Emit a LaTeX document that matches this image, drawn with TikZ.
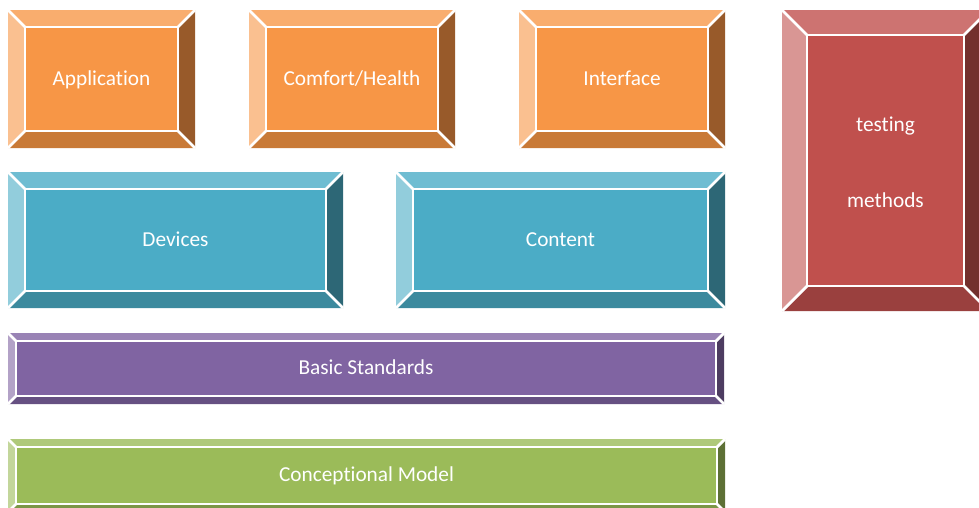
\documentclass[tikz,border=0pt]{standalone}
\usepackage{fontspec}
\setmainfont{Carlito}[Ligatures=NoCommon]
\definecolor{orangeface}{HTML}{F79646}
\definecolor{orangetop}{HTML}{F9AD6E}
\definecolor{orangeleft}{HTML}{FAC090}
\definecolor{orangebottom}{HTML}{C97A37}
\definecolor{orangeright}{HTML}{985A2A}
\definecolor{blueface}{HTML}{4BACC6}
\definecolor{bluetop}{HTML}{6FBDD2}
\definecolor{blueleft}{HTML}{92CDDC}
\definecolor{bluebottom}{HTML}{3C8A9E}
\definecolor{blueright}{HTML}{2D6776}
\definecolor{redface}{HTML}{C0504D}
\definecolor{redtop}{HTML}{CD7371}
\definecolor{redleft}{HTML}{D99694}
\definecolor{redbottom}{HTML}{9A403E}
\definecolor{redright}{HTML}{73302E}
\definecolor{purpleface}{HTML}{8064A2}
\definecolor{purpletop}{HTML}{9983B5}
\definecolor{purpleleft}{HTML}{B3A2C7}
\definecolor{purplebottom}{HTML}{665082}
\definecolor{purpleright}{HTML}{4D3C61}
\definecolor{greenface}{HTML}{9BBB59}
\definecolor{greentop}{HTML}{AFC97A}
\definecolor{greenleft}{HTML}{C3D69B}
\definecolor{greenbottom}{HTML}{7C9647}
\definecolor{greenright}{HTML}{5D7035}
\tikzset{
  facet/.style={draw=white, line width=2.8pt, line join=miter},
  face/.style={rectangle, draw=white, line width=2.8pt, inner sep=0pt, align=center,
    text=white, text height=14.5pt, text depth=2.5pt,
    font=\fontsize{21.3}{25}\selectfont}
}
% bevelled block: [options], name, x1, y1, x2, y2, bevel, colour, text
\newcommand{\bevelblock}[9][]{%
  \fill[#8top] (#3,#4) -- (#5,#4) -- (#5-#7,#4+#7) -- (#3+#7,#4+#7) -- cycle;
  \fill[#8left] (#3,#4) -- (#3+#7,#4+#7) -- (#3+#7,#6-#7) -- (#3,#6) -- cycle;
  \fill[#8right] (#5,#4) -- (#5,#6) -- (#5-#7,#6-#7) -- (#5-#7,#4+#7) -- cycle;
  \fill[#8bottom] (#3,#6) -- (#5,#6) -- (#5-#7,#6-#7) -- (#3+#7,#6-#7) -- cycle;
  \draw[facet] (#3,#4) -- (#3+#7,#4+#7) (#5,#4) -- (#5-#7,#4+#7)
    (#3,#6) -- (#3+#7,#6-#7) (#5,#6) -- (#5-#7,#6-#7);
  \node[face, fill=#8face, minimum width={(#5-#3-2*#7)*1pt},
    minimum height={(#6-#4-2*#7)*1pt}, #1] (#2) at ({(#3+#5)/2},{(#4+#6)/2}) {#9};
}

\begin{document}
\begin{tikzpicture}[x=1pt, y=-1pt]
\useasboundingbox (0,0) rectangle (979,507);
\clip (0,0) rectangle (979,507);

\bevelblock{application}{8}{10}{195}{148}{17}{orange}{Application}
\bevelblock{comfort}{249}{10}{455}{148}{17}{orange}{Comfort/Health}
\bevelblock{interface}{519}{10}{725}{148}{17}{orange}{Interface}
\bevelblock[text height=96.5pt]{testing}{782}{10}{989}{311}{25}{red}{testing\\[51pt]methods}

\bevelblock{devices}{8}{172}{343}{308}{17}{blue}{Devices}
\bevelblock{content}{396}{172}{725}{308}{17}{blue}{Content}

\bevelblock{standards}{8}{333}{724}{404}{8}{purple}{Basic Standards}
\bevelblock{model}{8}{439}{725}{512}{8}{green}{Conceptional Model}

\end{tikzpicture}
\end{document}
